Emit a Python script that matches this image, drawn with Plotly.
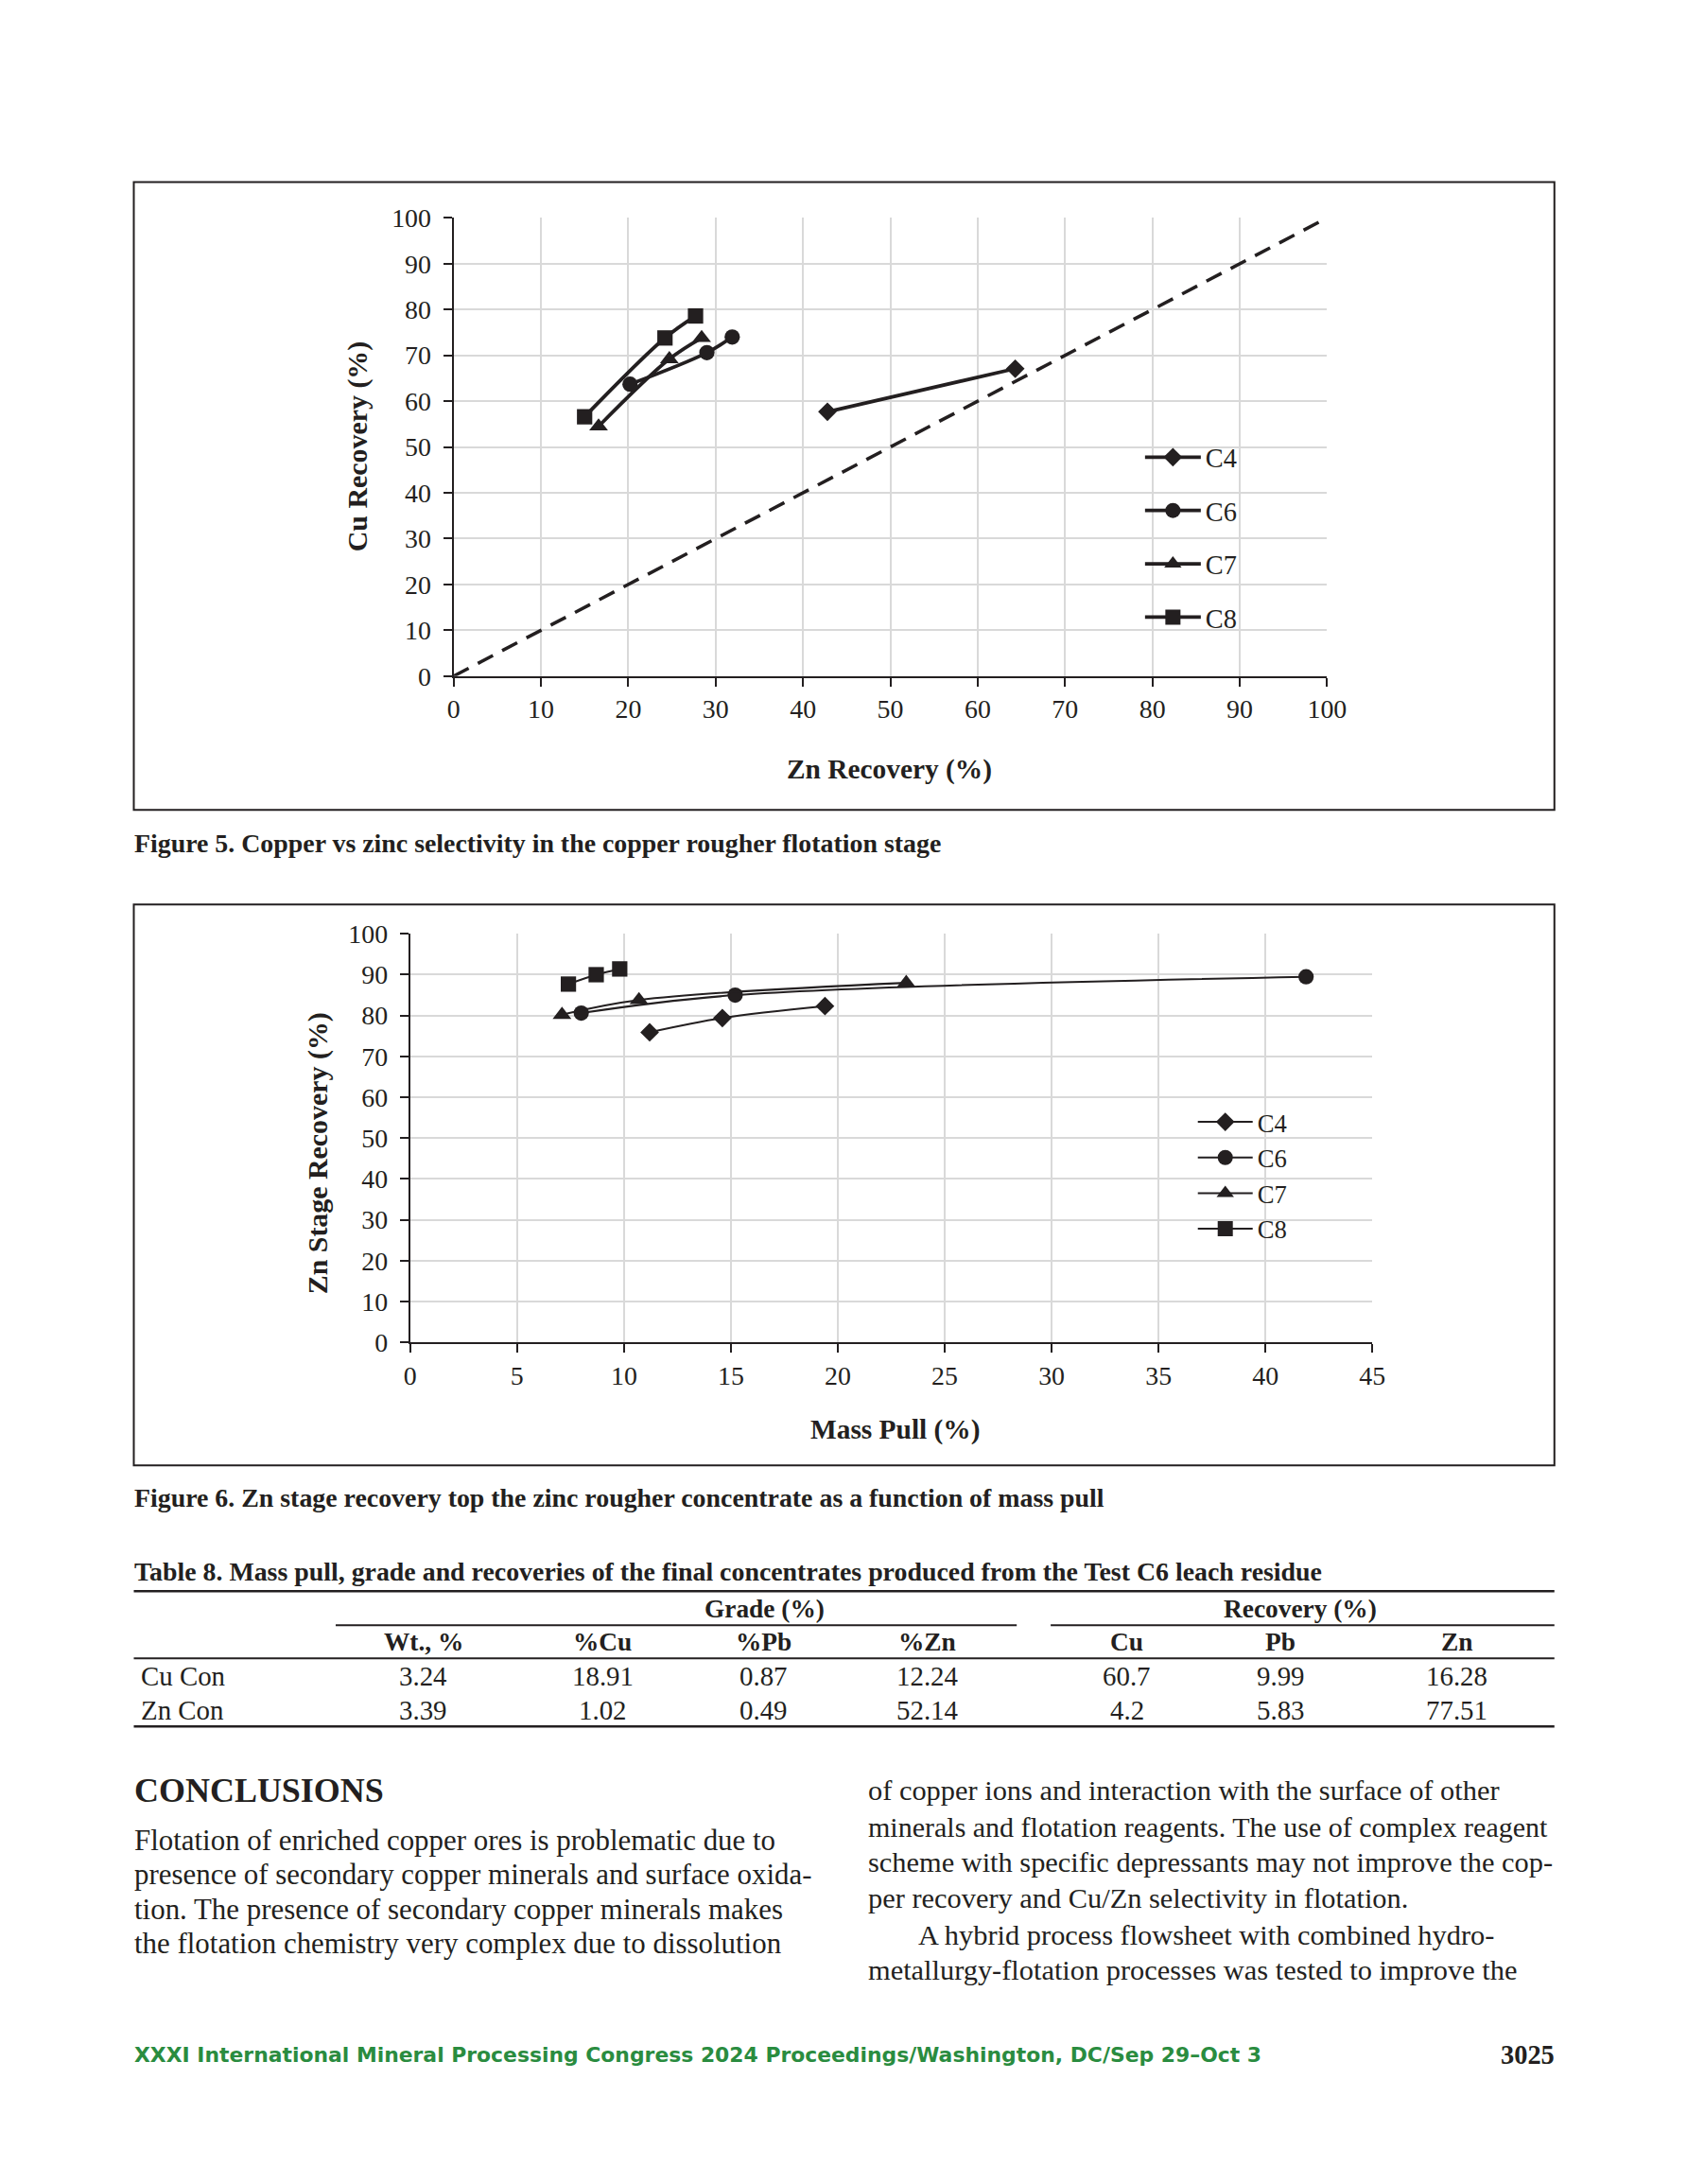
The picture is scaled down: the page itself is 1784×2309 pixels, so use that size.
import plotly.graph_objects as go

# ---------------- data ----------------
series_names = ["C4", "C6", "C7", "C8"]

# Figure 5: Zn recovery (x) vs Cu recovery (y)
f5_zn_C4 = [42.8, 64.3]
f5_cu_C4 = [57.7, 67.1]
f5_zn_C6 = [20.2, 29.0, 31.9]
f5_cu_C6 = [63.7, 70.6, 74.0]
f5_zn_C7 = [16.6, 24.7, 28.4]
f5_cu_C7 = [54.5, 69.2, 73.8]
f5_zn_C8 = [15.0, 24.2, 27.7]
f5_cu_C8 = [56.6, 73.8, 78.6]
f5_diag = [0, 100]

# Figure 6: mass pull (x) vs Zn stage recovery (y)
f6_mp_C4 = [11.2, 14.6, 19.4]
f6_zr_C4 = [75.9, 79.4, 82.3]
f6_mp_C6 = [8.0, 15.2, 41.9]
f6_zr_C6 = [80.6, 85.0, 89.5]
f6_mp_C7 = [7.1, 10.7, 23.2]
f6_zr_C7 = [80.2, 83.8, 88.0]
f6_mp_C8 = [7.4, 8.7, 9.8]
f6_zr_C8 = [87.7, 90.0, 91.4]

# Table 8
table_title = "Table 8. Mass pull, grade and recoveries of the final concentrates produced from the Test C6 leach residue"
table_groups = ["Grade (%)", "Recovery (%)"]
table_cols = ["Wt., %", "%Cu", "%Pb", "%Zn", "Cu", "Pb", "Zn"]
table_rows = ["Cu Con", "Zn Con"]
table_cucon = ["3.24", "18.91", "0.87", "12.24", "60.7", "9.99", "16.28"]
table_zncon = ["3.39", "1.02", "0.49", "52.14", "4.2", "5.83", "77.51"]

caption5 = "Figure 5. Copper vs zinc selectivity in the copper rougher flotation stage"
caption6 = "Figure 6. Zn stage recovery top the zinc rougher concentrate as a function of mass pull"

heading = "CONCLUSIONS"
left_lines = [
    "Flotation of enriched copper ores is problematic due to",
    "presence of secondary copper minerals and surface oxida-",
    "tion. The presence of secondary copper minerals makes",
    "the flotation chemistry very complex due to dissolution",
]
right_lines = [
    "of copper ions and interaction with the surface of other",
    "minerals and flotation reagents. The use of complex reagent",
    "scheme with specific depressants may not improve the cop-",
    "per recovery and Cu/Zn selectivity in flotation.",
    "A hybrid process flowsheet with combined hydro-",
    "metallurgy-flotation processes was tested to improve the",
]
footer = "XXXI International Mineral Processing Congress 2024 Proceedings/Washington, DC/Sep 29–Oct 3"
page_no = "3025"

# ---------------- styling ----------------
PAGE_W, PAGE_H = 1784, 2309
BODY_MARGIN = 8          # default browser body margin
W, H = PAGE_W - 2 * BODY_MARGIN, PAGE_H - 2 * BODY_MARGIN
# observed capture transform (final = S * page + offset)
S, OX, OY = 0.9866, 4.3, 13.7
K = 1 / S
INK = "#231f20"
GRID = "#d9d9d9"
SERIF = "Liberation Serif, Times New Roman, serif"


def px(x):
    p = (x - OX) / S
    return (p - BODY_MARGIN) / W


def py(y):
    p = (y - OY) / S
    return 1 - (p - BODY_MARGIN) / H


symbols = {"C4": "diamond", "C6": "circle", "C7": "triangle-up", "C8": "square"}
msize = {"C4": 15, "C6": 16, "C7": 17, "C8": 16}

fig = go.Figure()

f5x = {"C4": f5_zn_C4, "C6": f5_zn_C6, "C7": f5_zn_C7, "C8": f5_zn_C8}
f5y = {"C4": f5_cu_C4, "C6": f5_cu_C6, "C7": f5_cu_C7, "C8": f5_cu_C8}
f6x = {"C4": f6_mp_C4, "C6": f6_mp_C6, "C7": f6_mp_C7, "C8": f6_mp_C8}
f6y = {"C4": f6_zr_C4, "C6": f6_zr_C6, "C7": f6_zr_C7, "C8": f6_zr_C8}

fig.add_trace(go.Scatter(
    x=f5_diag, y=f5_diag, mode="lines", showlegend=False,
    line=dict(color=INK, width=3.5 * K, dash="18px,11px"),
    xaxis="x", yaxis="y", hoverinfo="skip"))

for n in series_names:
    fig.add_trace(go.Scatter(
        x=f5x[n], y=f5y[n], name=n, mode="lines+markers",
        line=dict(color=INK, width=3.7 * K, shape="spline"),
        marker=dict(symbol=symbols[n], size=msize[n] * K, color=INK),
        xaxis="x", yaxis="y", legend="legend", legendgroup="a" + n))

for n in series_names:
    fig.add_trace(go.Scatter(
        x=f6x[n], y=f6y[n], name=n, mode="lines+markers",
        line=dict(color=INK, width=2 * K, shape="spline"),
        marker=dict(symbol=symbols[n], size=msize[n] * K, color=INK),
        xaxis="x2", yaxis="y2", legend="legend2", legendgroup="b" + n))

axis_common = dict(
    showgrid=True, gridcolor=GRID, gridwidth=2,
    showline=True, linecolor=INK, linewidth=2,
    ticks="outside", ticklen=9 * K, tickwidth=2, tickcolor=INK,
    tickfont=dict(family=SERIF, size=27.5 * K, color=INK),
    zeroline=False, fixedrange=True,
)

fig.update_layout(
    width=W, height=H, margin=dict(l=0, r=0, t=0, b=0),
    paper_bgcolor="white", plot_bgcolor="white",
    xaxis=dict(domain=[px(478), px(1404)], range=[0, 100], dtick=10, anchor="y",
               ticklabelstandoff=0, **axis_common),
    yaxis=dict(domain=[py(713.5), py(229)], range=[0, 100], dtick=10, anchor="x",
               ticklabelstandoff=7, **axis_common),
    xaxis2=dict(domain=[px(432), px(1452)], range=[0, 45], dtick=5, anchor="y2",
                ticklabelstandoff=0, **axis_common),
    yaxis2=dict(domain=[py(1418), py(986)], range=[0, 100], dtick=10, anchor="x2",
                ticklabelstandoff=7, **axis_common),
    legend=dict(x=px(1206), y=py(457), xanchor="left", yanchor="top",
                bgcolor="rgba(0,0,0,0)", font=dict(family=SERIF, size=28 * K, color=INK),
                itemwidth=59, tracegroupgap=16.5, traceorder="grouped"),
    legend2=dict(x=px(1262), y=py(1161), xanchor="left", yanchor="top",
                 bgcolor="rgba(0,0,0,0)", font=dict(family=SERIF, size=26.3 * K, color=INK),
                 itemwidth=58, tracegroupgap=0, traceorder="grouped"),
    showlegend=True,
)

shapes = []
# chart frames
shapes.append(dict(type="rect", xref="paper", yref="paper", x0=px(139), x1=px(1645),
                   y0=py(855), y1=py(191), line=dict(color=INK, width=2)))
shapes.append(dict(type="rect", xref="paper", yref="paper", x0=px(139), x1=px(1645),
                   y0=py(1548), y1=py(955), line=dict(color=INK, width=2)))
# table rules
for (x0, x1, y, w) in [(139, 1645, 1681, 2.5), (353, 1075, 1717, 2), (1111, 1645, 1717, 2),
                       (139, 1645, 1752, 2), (139, 1645, 1824, 2.5)]:
    shapes.append(dict(type="line", xref="paper", yref="paper", x0=px(x0), x1=px(x1),
                       y0=py(y), y1=py(y), line=dict(color=INK, width=w)))
fig.update_layout(shapes=shapes)

ann = []
PAD = 3  # annotation inner padding compensation


def text(t, x, y, size, bold=False, xanchor="left", color=INK, family=SERIF, angle=0):
    s = "<b>" + t + "</b>" if bold else t
    if xanchor == "left":
        x -= PAD
    elif xanchor == "right":
        x += PAD
    ann.append(dict(text=s, x=px(x), y=py(y), xref="paper", yref="paper",
                    xanchor=xanchor, yanchor="middle", showarrow=False, textangle=angle,
                    font=dict(family=family, size=size * K, color=color)))


# axis titles
text("Cu Recovery (%)", 376, 471, 29.5, bold=True, xanchor="center", angle=-90)
text("Zn Recovery (%)", 940, 812, 29, bold=True, xanchor="center")
text("Zn Stage Recovery (%)", 334, 1218, 29.5, bold=True, xanchor="center", angle=-90)
text("Mass Pull (%)", 947, 1510, 29, bold=True, xanchor="center")

# captions
text(caption5, 141, 890, 27.5, bold=True)
text(caption6, 141, 1582, 27.5, bold=True)
text(table_title, 141, 1660, 27.5, bold=True)

# table
col_x = [446, 636, 807, 980, 1192, 1355, 1541]
text(table_groups[0], 808, 1700, 27, bold=True, xanchor="center")
text(table_groups[1], 1376, 1700, 27, bold=True, xanchor="center")
for cx, c in zip(col_x, table_cols):
    text(c, cx, 1735, 27, bold=True, xanchor="center")
for ry, label, vals in [(1771, table_rows[0], table_cucon), (1807, table_rows[1], table_zncon)]:
    text(label, 148, ry, 28.5)
    for cx, v in zip(col_x, vals):
        text(v, cx, ry, 28.5, xanchor="center")

# body text
text(heading, 141, 1892, 35.5, bold=True)
for i, line in enumerate(left_lines):
    text(line, 141, 1944 + i * 36.5, 30.5)
right_y = [1892, 1930, 1968, 2006, 2045, 2082]
for i, line in enumerate(right_lines):
    x = 972 if i == 4 else 918
    text(line, x, right_y[i], 30 if i != 1 else 29.6)

# footer
text(footer, 141, 2171, 21.6, bold=True, color="#2a8c3f", family="DejaVu Sans")
text(page_no, 1644, 2171, 28, bold=True, xanchor="right")

fig.update_layout(annotations=ann)

fig.write_html("out.html", config={"displayModeBar": False})
